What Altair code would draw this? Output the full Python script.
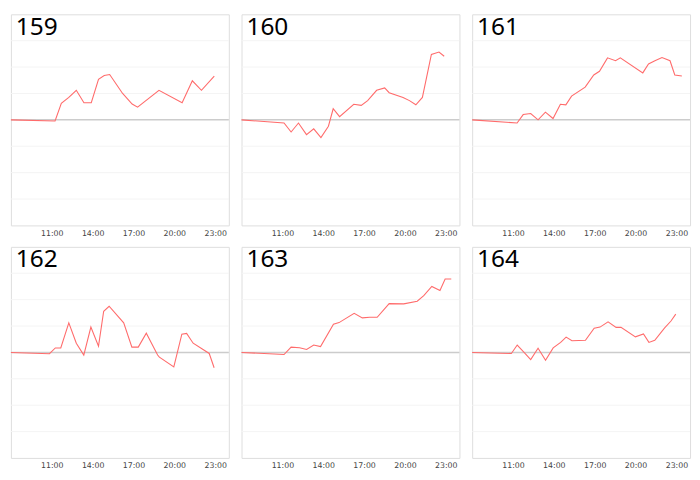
import altair as alt
import pandas as pd

panel_ids = ["159", "160", "161", "162", "163", "164"]

t159 = [8.0, 11.24, 11.7, 12.25, 12.8, 13.36, 13.9, 14.43, 14.85, 15.25, 16.2, 16.9, 17.3, 18.87, 20.57, 21.32, 21.99, 22.93]
v159 = [0.0, -0.04, 0.63, 0.85, 1.12, 0.65, 0.65, 1.54, 1.68, 1.72, 1.0, 0.6, 0.48, 1.12, 0.65, 1.48, 1.12, 1.66]

t160 = [8.0, 11.12, 11.64, 12.18, 12.77, 13.3, 13.83, 14.38, 14.73, 15.2, 16.24, 16.79, 17.26, 17.92, 18.51, 18.84, 19.86, 20.33, 20.8, 21.28, 21.94, 22.5, 22.88]
v160 = [0.0, -0.12, -0.46, -0.12, -0.56, -0.34, -0.67, -0.24, 0.42, 0.12, 0.59, 0.55, 0.73, 1.12, 1.21, 1.03, 0.85, 0.73, 0.57, 0.85, 2.48, 2.57, 2.41]

t161 = [8.0, 11.3, 11.75, 12.3, 12.84, 13.38, 13.94, 14.48, 14.88, 15.3, 16.3, 16.93, 17.35, 17.94, 18.53, 18.88, 20.53, 20.95, 21.42, 21.94, 22.53, 22.88, 23.4]
v161 = [0.0, -0.12, 0.2, 0.24, 0.0, 0.29, 0.05, 0.59, 0.57, 0.9, 1.24, 1.7, 1.84, 2.35, 2.24, 2.35, 1.78, 2.12, 2.24, 2.36, 2.24, 1.7, 1.66]

t162 = [8.0, 10.83, 11.26, 11.66, 12.25, 12.8, 13.35, 13.87, 14.43, 14.81, 15.21, 16.28, 16.88, 17.35, 17.94, 18.77, 18.9, 19.96, 20.55, 20.9, 21.38, 22.56, 22.92]
v162 = [0.0, -0.05, 0.17, 0.17, 1.12, 0.35, -0.1, 0.96, 0.24, 1.56, 1.75, 1.12, 0.2, 0.2, 0.73, -0.1, -0.18, -0.55, 0.69, 0.72, 0.35, -0.04, -0.58]

t163 = [8.0, 11.12, 11.64, 12.26, 12.78, 13.3, 13.8, 14.75, 15.16, 16.27, 16.87, 17.41, 17.96, 18.84, 19.91, 20.9, 21.38, 21.97, 22.57, 22.95, 23.4]
v163 = [0.0, -0.08, 0.2, 0.18, 0.11, 0.28, 0.22, 1.07, 1.13, 1.48, 1.31, 1.33, 1.33, 1.85, 1.84, 1.94, 2.15, 2.5, 2.35, 2.78, 2.78]

t164 = [8.0, 10.88, 11.31, 11.83, 12.3, 12.84, 13.39, 13.95, 14.5, 14.9, 15.33, 16.32, 16.96, 17.39, 17.98, 18.57, 18.93, 19.99, 20.58, 20.98, 21.41, 22.12, 22.6, 22.95]
v164 = [0.0, -0.04, 0.28, -0.01, -0.27, 0.16, -0.3, 0.17, 0.38, 0.58, 0.44, 0.46, 0.92, 0.96, 1.16, 0.95, 0.95, 0.59, 0.7, 0.38, 0.46, 0.92, 1.19, 1.45]

x_ticks = [11, 14, 17, 20, 23]
y_grid = [-3, -2, -1, 1, 2, 3]

series = {
    "159": (t159, v159),
    "160": (t160, v160),
    "161": (t161, v161),
    "162": (t162, v162),
    "163": (t163, v163),
    "164": (t164, v164),
}

W, H = 223, 216
ydom = alt.Scale(domain=[-4, 4], nice=False)


def panel(pid):
    t, v = series[pid]
    df = pd.DataFrame({"hour": t, "value": v})
    x = alt.X(
        "hour:Q",
        scale=alt.Scale(domain=[8, 24], nice=False, zero=False),
        axis=alt.Axis(
            values=x_ticks,
            labelExpr="datum.value + ':00'",
            title=None,
            grid=False,
            ticks=False,
            domain=False,
            labelFontSize=8,
            labelColor="#444444",
            labelFont="DejaVu Sans",
            labelPadding=4,
        ),
    )
    y = alt.Y("value:Q", scale=ydom, axis=None)
    grid = (
        alt.Chart(pd.DataFrame({"g": y_grid}))
        .mark_rule(color="#f4f4f4", strokeWidth=1)
        .encode(y=alt.Y("g:Q", scale=ydom, axis=None))
    )
    zero = (
        alt.Chart(pd.DataFrame({"z": [0]}))
        .mark_rule(color="#cccccc", strokeWidth=1.5)
        .encode(y=alt.Y("z:Q", scale=ydom, axis=None))
    )
    line = alt.Chart(df).mark_line(color="#ff6b6b", strokeWidth=1.1).encode(x=x, y=y)
    label = (
        alt.Chart(pd.DataFrame({"name": [pid]}))
        .mark_text(
            align="left",
            baseline="top",
            fontSize=25,
            font="Noto Sans",
            color="#000000",
        )
        .encode(text="name:N", x=alt.value(5), y=alt.value(1))
    )
    return alt.layer(grid, zero, line, label).properties(width=W, height=H)


chart = (
    alt.concat(*[panel(p) for p in panel_ids], columns=3, spacing=8)
    .properties(padding=0)
    .configure_view(stroke="#d9d9d9", strokeWidth=1.5)
    .configure(background="white")
)

chart.save("out.html", embed_options={"renderer": "svg", "actions": False})
